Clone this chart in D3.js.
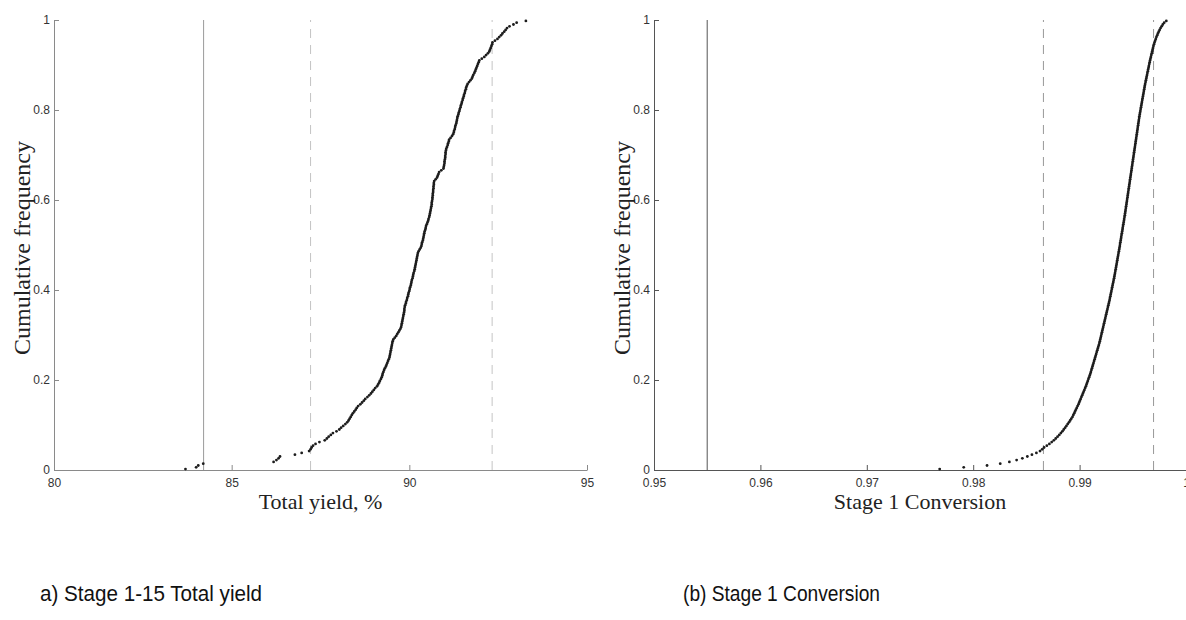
<!DOCTYPE html>
<html>
<head>
<meta charset="utf-8">
<script src="https://cdn.jsdelivr.net/npm/d3@7"></script>
<style>
  body { margin: 0; background: #fff; }
  svg { display: block; }
</style>
</head>
<body>
<svg width="1186" height="620"></svg>
<script>
"use strict";

// sorted samples (250 each), plotted as empirical CDF at (i+0.5)/n
var yieldSamples = [
  83.70, 84.00, 84.06, 84.20, 86.18, 86.26, 86.32, 86.36, 86.78, 86.97,
  87.18, 87.22, 87.25, 87.29, 87.36, 87.47, 87.62, 87.68, 87.73, 87.79,
  87.85, 87.95, 88.03, 88.08, 88.14, 88.20, 88.25, 88.29, 88.32, 88.35,
  88.38, 88.41, 88.45, 88.49, 88.52, 88.56, 88.62, 88.67, 88.72, 88.76,
  88.82, 88.87, 88.92, 88.96, 89.00, 89.04, 89.09, 89.12, 89.15, 89.17,
  89.20, 89.22, 89.24, 89.25, 89.27, 89.29, 89.31, 89.34, 89.36, 89.38,
  89.40, 89.42, 89.44, 89.45, 89.46, 89.47, 89.48, 89.49, 89.50, 89.51,
  89.52, 89.53, 89.55, 89.59, 89.63, 89.66, 89.69, 89.72, 89.75, 89.77,
  89.78, 89.79, 89.80, 89.81, 89.82, 89.83, 89.84, 89.85, 89.86, 89.86,
  89.87, 89.88, 89.90, 89.91, 89.93, 89.94, 89.96, 89.97, 89.98, 90.00,
  90.01, 90.02, 90.04, 90.05, 90.06, 90.07, 90.09, 90.10, 90.11, 90.12,
  90.14, 90.15, 90.16, 90.17, 90.18, 90.19, 90.20, 90.21, 90.22, 90.23,
  90.24, 90.26, 90.29, 90.32, 90.34, 90.35, 90.36, 90.38, 90.39, 90.40,
  90.41, 90.42, 90.43, 90.45, 90.46, 90.47, 90.49, 90.51, 90.53, 90.54,
  90.56, 90.57, 90.58, 90.59, 90.60, 90.61, 90.62, 90.63, 90.63, 90.64,
  90.65, 90.65, 90.66, 90.66, 90.67, 90.67, 90.68, 90.68, 90.69, 90.69,
  90.70, 90.74, 90.78, 90.80, 90.82, 90.84, 90.90, 90.96, 90.97, 90.98,
  90.99, 90.99, 91.00, 91.01, 91.01, 91.02, 91.02, 91.03, 91.04, 91.06,
  91.08, 91.09, 91.11, 91.12, 91.16, 91.20, 91.23, 91.25, 91.26, 91.28,
  91.29, 91.30, 91.32, 91.33, 91.34, 91.35, 91.36, 91.38, 91.39, 91.41,
  91.42, 91.44, 91.45, 91.47, 91.48, 91.50, 91.51, 91.53, 91.54, 91.56,
  91.57, 91.59, 91.60, 91.62, 91.64, 91.68, 91.72, 91.76, 91.78, 91.80,
  91.83, 91.85, 91.87, 91.89, 91.91, 91.93, 91.95, 91.97, 92.04, 92.11,
  92.16, 92.21, 92.25, 92.27, 92.29, 92.31, 92.33, 92.34, 92.41, 92.48,
  92.53, 92.58, 92.62, 92.67, 92.71, 92.75, 92.82, 92.93, 93.02, 93.28
];

var conversionSamples = [
  0.97685, 0.97911, 0.98130, 0.98254, 0.98340, 0.98408, 0.98462, 0.98509, 0.98552, 0.98594,
  0.98628, 0.98648, 0.98666, 0.98692, 0.98716, 0.98738, 0.98758, 0.98776, 0.98793, 0.98809,
  0.98824, 0.98838, 0.98851, 0.98864, 0.98876, 0.98888, 0.98900, 0.98911, 0.98922, 0.98933,
  0.98941, 0.98949, 0.98957, 0.98965, 0.98973, 0.98981, 0.98989, 0.98996, 0.99003, 0.99010,
  0.99017, 0.99024, 0.99031, 0.99038, 0.99045, 0.99052, 0.99059, 0.99065, 0.99071, 0.99077,
  0.99083, 0.99089, 0.99095, 0.99101, 0.99106, 0.99111, 0.99116, 0.99121, 0.99126, 0.99131,
  0.99136, 0.99141, 0.99146, 0.99151, 0.99156, 0.99161, 0.99166, 0.99171, 0.99176, 0.99181,
  0.99186, 0.99190, 0.99194, 0.99198, 0.99202, 0.99206, 0.99210, 0.99214, 0.99218, 0.99222,
  0.99226, 0.99230, 0.99234, 0.99238, 0.99242, 0.99246, 0.99250, 0.99254, 0.99258, 0.99262,
  0.99266, 0.99270, 0.99274, 0.99278, 0.99282, 0.99285, 0.99289, 0.99292, 0.99296, 0.99299,
  0.99303, 0.99306, 0.99310, 0.99313, 0.99317, 0.99320, 0.99324, 0.99327, 0.99330, 0.99333,
  0.99336, 0.99339, 0.99342, 0.99345, 0.99348, 0.99351, 0.99354, 0.99357, 0.99360, 0.99363,
  0.99366, 0.99369, 0.99372, 0.99375, 0.99378, 0.99380, 0.99383, 0.99386, 0.99389, 0.99391,
  0.99394, 0.99397, 0.99400, 0.99403, 0.99405, 0.99408, 0.99411, 0.99414, 0.99417, 0.99419,
  0.99422, 0.99425, 0.99427, 0.99430, 0.99432, 0.99435, 0.99437, 0.99440, 0.99442, 0.99445,
  0.99447, 0.99450, 0.99452, 0.99455, 0.99457, 0.99460, 0.99462, 0.99465, 0.99467, 0.99470,
  0.99472, 0.99475, 0.99477, 0.99480, 0.99482, 0.99485, 0.99487, 0.99490, 0.99492, 0.99495,
  0.99497, 0.99500, 0.99502, 0.99505, 0.99507, 0.99510, 0.99512, 0.99515, 0.99517, 0.99520,
  0.99522, 0.99525, 0.99527, 0.99530, 0.99532, 0.99535, 0.99537, 0.99540, 0.99542, 0.99545,
  0.99547, 0.99550, 0.99552, 0.99555, 0.99557, 0.99560, 0.99562, 0.99565, 0.99568, 0.99571,
  0.99574, 0.99577, 0.99580, 0.99583, 0.99586, 0.99589, 0.99592, 0.99595, 0.99598, 0.99601,
  0.99604, 0.99607, 0.99610, 0.99613, 0.99616, 0.99620, 0.99623, 0.99627, 0.99630, 0.99634,
  0.99637, 0.99641, 0.99644, 0.99648, 0.99651, 0.99655, 0.99658, 0.99662, 0.99666, 0.99670,
  0.99674, 0.99678, 0.99682, 0.99686, 0.99690, 0.99694, 0.99699, 0.99704, 0.99710, 0.99716,
  0.99722, 0.99729, 0.99736, 0.99744, 0.99752, 0.99761, 0.99771, 0.99782, 0.99795, 0.99815
];

// reference lines: [solid, dashed low, dashed high]
var yieldLines = [84.21, 87.22, 92.33];
var conversionLines = [0.955, 0.9866, 0.99695];

var yieldTicks = [80, 85, 90, 95];
var conversionTicks = [0.95, 0.96, 0.97, 0.98, 0.99, 1];
var freqTicks = [0, 0.2, 0.4, 0.6, 0.8, 1];

var svg = d3.select("svg");

/**
   draw one CDF panel
 */
var drawPanel = function(opts){
    var x = d3.scaleLinear().domain(opts.domain).range(opts.xRange),
        y = d3.scaleLinear().domain([0, 1]).range([470, 20]),
        n = opts.samples.length,
        g = svg.append("g");

    //vertical markers
    g.selectAll("line.ref").data(opts.lines).enter()
        .append("line")
        .attr("x1", d => x(d)).attr("x2", d => x(d))
        .attr("y1", y(0)).attr("y2", y(1))
        .style("stroke", (d, i) => i === 0 ? opts.solidColour : opts.dashColour)
        .style("stroke-width", 1)
        .style("stroke-dasharray", (d, i) => i === 0 ? null : "9,7");

    //axes, ticks point inward
    var xAxis = d3.axisBottom(x).tickValues(opts.ticks)
            .tickFormat(d => String(d)).tickSizeInner(-5).tickSizeOuter(0).tickPadding(8),
        yAxis = d3.axisLeft(y).tickValues(freqTicks)
            .tickFormat(d => String(d)).tickSizeInner(-5).tickSizeOuter(0).tickPadding(4);

    [g.append("g").attr("transform", "translate(0," + y(0) + ")").call(xAxis),
     g.append("g").attr("transform", "translate(" + opts.xRange[0] + ",0)").call(yAxis)]
        .forEach(function(a){
            a.select(".domain").style("stroke", opts.axisColour);
            a.selectAll(".tick line").style("stroke", opts.axisColour);
            a.selectAll(".tick text")
                .style("font-family", "'Liberation Sans', Arial, sans-serif")
                .style("font-size", "12px")
                .style("fill", "#333");
        });

    //samples
    g.selectAll("circle").data(opts.samples).enter()
        .append("circle")
        .attr("cx", d => x(d))
        .attr("cy", (d, i) => y((i + 0.5) / n))
        .attr("r", 1.4)
        .style("fill", "#1c1c1c");

    //titles
    g.append("text")
        .attr("x", (opts.xRange[0] + opts.xRange[1]) / 2)
        .attr("y", 509)
        .style("text-anchor", "middle")
        .style("font-family", "'Liberation Serif', 'Times New Roman', serif")
        .style("font-size", "22px")
        .style("fill", "#222")
        .text(opts.xLabel);

    g.append("text")
        .attr("transform", "translate(" + (opts.xRange[0] - 24) + ",248) rotate(-90)")
        .style("text-anchor", "middle")
        .style("font-family", "'Liberation Serif', 'Times New Roman', serif")
        .style("font-size", "24px")
        .style("fill", "#222")
        .text("Cumulative frequency");

    //caption below the panel, squeezed like a narrow face
    svg.append("text")
        .attr("x", opts.captionX)
        .attr("y", 601)
        .attr("textLength", opts.captionWidth)
        .attr("lengthAdjust", "spacingAndGlyphs")
        .style("font-family", "'Liberation Sans Narrow', 'Liberation Sans', Arial, sans-serif")
        .style("font-size", "22px")
        .style("fill", "#111")
        .text(opts.caption);
};

drawPanel({
    samples: yieldSamples,
    domain: [80, 95],
    xRange: [54, 587],
    ticks: yieldTicks,
    lines: yieldLines,
    axisColour: "#8a8a8a",
    solidColour: "#9a9a9a",
    dashColour: "#c4c4c4",
    xLabel: "Total yield, %",
    caption: "a) Stage 1-15 Total yield",
    captionX: 40,
    captionWidth: 222
});

drawPanel({
    samples: conversionSamples,
    domain: [0.95, 1],
    xRange: [654, 1186],
    ticks: conversionTicks,
    lines: conversionLines,
    axisColour: "#555",
    solidColour: "#555",
    dashColour: "#999",
    xLabel: "Stage 1 Conversion",
    caption: "(b) Stage 1 Conversion",
    captionX: 683,
    captionWidth: 197
});
</script>
</body>
</html>
